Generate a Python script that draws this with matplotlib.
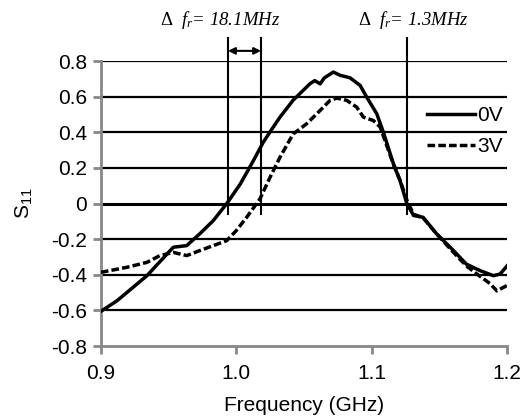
import matplotlib
matplotlib.use("Agg")
import matplotlib.pyplot as plt

plt.rcParams['font.family'] = ['Liberation Sans', 'DejaVu Sans']
plt.rcParams['mathtext.fontset'] = 'custom'
plt.rcParams['mathtext.it'] = 'Liberation Serif:italic'
plt.rcParams['mathtext.rm'] = 'Liberation Serif'

# Data
f_0v = [0.900, 0.912, 0.934, 0.9535, 0.9634, 0.973, 0.983, 0.993, 1.003, 1.0126, 1.020,
        1.0274, 1.0323, 1.042, 1.047, 1.0545, 1.058, 1.062, 1.065, 1.0717, 1.0767, 1.084, 1.0915,
        1.0964, 1.1038, 1.1087, 1.1161, 1.121, 1.126, 1.131, 1.138, 1.148, 1.1605,
        1.170, 1.180, 1.190, 1.195, 1.200]
s_0v = [-0.605, -0.545, -0.405, -0.245, -0.236, -0.170, -0.096, 0.000, 0.110, 0.240, 0.345,
        0.430, 0.485, 0.580, 0.617, 0.673, 0.690, 0.672, 0.705, 0.738, 0.720, 0.706, 0.663,
        0.597, 0.504, 0.400, 0.223, 0.129, 0.000, -0.067, -0.077, -0.170, -0.264,
        -0.340, -0.376, -0.405, -0.395, -0.350]

f_3v = [0.900, 0.919, 0.934, 0.9436, 0.9535, 0.9634, 0.973, 0.983, 0.993, 1.000, 1.0077,
        1.0175, 1.025, 1.0323, 1.042, 1.052, 1.0595, 1.0693, 1.0743, 1.0816, 1.089,
        1.0939, 1.1013, 1.1063, 1.1161, 1.121, 1.1265, 1.131, 1.138, 1.148, 1.160,
        1.170, 1.1777, 1.1876, 1.1925, 1.200]
s_3v = [-0.386, -0.358, -0.330, -0.292, -0.274, -0.292, -0.264, -0.236, -0.208, -0.152, -0.077,
        0.026, 0.148, 0.260, 0.390, 0.448, 0.504, 0.579, 0.592, 0.579, 0.541,
        0.485, 0.466, 0.430, 0.220, 0.130, 0.010, -0.060, -0.080, -0.170, -0.270,
        -0.350, -0.395, -0.450, -0.490, -0.460]

marker_f = [0.9939, 1.0183, 1.1263]
labels = ['$\\Delta\\ \\ f_r$= 18.1MHz', '$\\Delta\\ \\ f_r$= 1.3MHz']
xticks = [0.9, 1.0, 1.1, 1.2]
yticks = [-0.8, -0.6, -0.4, -0.2, 0, 0.2, 0.4, 0.6, 0.8]

fig = plt.figure(figsize=(5.2, 4.18), dpi=100)
ax = fig.add_axes([0.194, 0.172, 0.781, 0.682])
ax.set_xlim(0.9, 1.2)
ax.set_ylim(-0.8, 0.8)

for y in yticks[1:]:
    ax.axhline(y, color='black', lw=2.2 if y == 0 else 1.6, zorder=1)

ax.plot(f_0v, s_0v, color='black', lw=2.5, label='0V', zorder=3)
ax.plot(f_3v, s_3v, color='black', lw=2.5, ls=(0, (2.2, 0.9)), label='3V', zorder=3)

for fx in marker_f:
    ax.plot([fx, fx], [-0.06, 0.93], color='black', lw=1.5, clip_on=False, zorder=2)

ax.annotate('', xy=(marker_f[0], 0.857), xytext=(marker_f[1], 0.857),
            arrowprops=dict(arrowstyle='<|-|>', color='black', lw=1.5,
                            mutation_scale=10, shrinkA=0, shrinkB=0),
            annotation_clip=False)

ax.text(0.9880, 1.0, labels[0], ha='center', va='baseline',
        fontsize=13.5, family='Liberation Serif', style='italic')
ax.text(1.1310, 1.0, labels[1], ha='center', va='baseline',
        fontsize=13.5, family='Liberation Serif', style='italic')

ax.set_xticks(xticks)
ax.set_xticklabels(['%.1f' % v for v in xticks])
ax.set_yticks(yticks)
ax.set_yticklabels(['0' if v == 0 else '%.1f' % v for v in yticks])
ax.tick_params(axis='both', labelsize=15, color='#888888', length=6, width=2, direction='out')
ax.tick_params(axis='x', pad=7)
ax.tick_params(axis='y', pad=4)
for s in ['top', 'right']:
    ax.spines[s].set_visible(False)
for s in ['left', 'bottom']:
    ax.spines[s].set_color('#888888')
    ax.spines[s].set_linewidth(2)

ax.set_xlabel('Frequency (GHz)', fontsize=15, labelpad=9)
ax.set_ylabel('S$_{\\mathregular{11}}$', fontsize=15, labelpad=12)

ax.legend(loc='upper right', bbox_to_anchor=(1.01, 0.87), frameon=False, fontsize=15,
          handlelength=2.3, handletextpad=0.1, labelspacing=0.55, borderaxespad=0)

fig.savefig('out.png', dpi=100)
